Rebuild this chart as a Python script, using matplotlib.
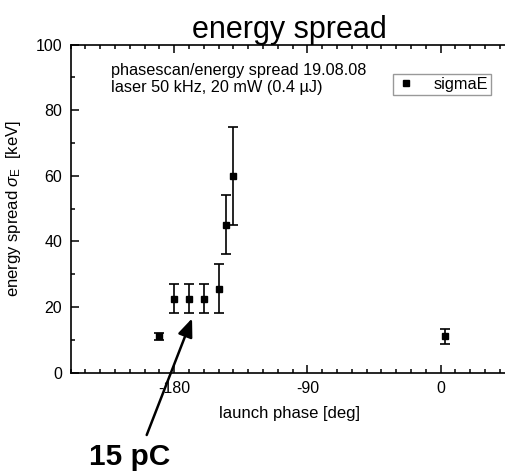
import matplotlib
matplotlib.use("Agg")
import matplotlib.pyplot as plt
from matplotlib.ticker import MultipleLocator
from matplotlib.lines import Line2D

plt.rcParams['font.family'] = ['Liberation Sans', 'DejaVu Sans']
plt.rcParams['mathtext.fontset'] = 'custom'
plt.rcParams['mathtext.rm'] = 'Liberation Sans'
plt.rcParams['mathtext.it'] = 'Liberation Sans:italic'

phase = [-190, -180, -170, -160, -150, -145, -140, 3]
sigmaE = [11, 22.5, 22.5, 22.5, 25.5, 45, 60, 11]
sigmaE_err = [1, 4.5, 4.5, 4.5, 7.5, 9, 15, 2.3]
xticks = [-180, -90, 0]

W, H = 506, 473
fig = plt.figure(figsize=(W / 100, H / 100), dpi=100)
ax = fig.add_axes([70.7 / W, 1 - 372.5 / H, (508 - 70.7) / W, (372.5 - 44.7) / H])

ax.errorbar(phase, sigmaE, yerr=sigmaE_err, fmt='s', color='black', ms=5,
            elinewidth=1.2, capsize=3.5, capthick=1.2)

ax.set_xlim(-250, 45.5)
ax.set_ylim(0, 100)
ax.set_xticks(xticks)
ax.set_xticklabels([str(v) for v in xticks])
ax.xaxis.set_minor_locator(MultipleLocator(10))
ax.yaxis.set_major_locator(MultipleLocator(20))
ax.yaxis.set_minor_locator(MultipleLocator(10))
ax.tick_params(which='both', direction='in', top=True, right=False, labelsize=11.5, width=1.1)
ax.tick_params(which='major', length=6, pad=6)
ax.tick_params(which='minor', length=3)
for s in ax.spines.values():
    s.set_linewidth(1.2)
ax.spines['right'].set_visible(False)

ax.set_xlabel('launch phase [deg]', fontsize=12, labelpad=7)
ax.set_ylabel(r'energy spread $\sigma_{\rm E}$  [keV]', fontsize=12, labelpad=9)
ax.set_title('energy spread', fontsize=22, pad=0)

ax.text(0.093, 0.945, 'phasescan/energy spread 19.08.08\nlaser 50 kHz, 20 mW (0.4 \u00b5J)',
        transform=ax.transAxes, fontsize=11.7, va='top', ha='left', linespacing=1.2)

handle = Line2D([], [], marker='s', color='black', ls='none', ms=5)
leg = ax.legend([handle], ['sigmaE'], loc='upper right', bbox_to_anchor=(0.961, 0.912),
                fontsize=11.7, frameon=True, fancybox=False, borderpad=0.2,
                handletextpad=1.0, handlelength=1.3, borderaxespad=0)
leg.get_frame().set_edgecolor('#808080')
leg.get_frame().set_linewidth(1.0)

ax.annotate('', xy=(-168, 16.5), xycoords='data',
            xytext=(146.7, H - 435), textcoords='figure pixels',
            arrowprops=dict(arrowstyle='-|>,head_length=1.1,head_width=0.45', color='black', lw=1.8,
                            shrinkA=0, shrinkB=0),
            annotation_clip=False)
fig.text(89 / W, 8 / H, '15 pC', fontsize=21.5, fontweight='bold', ha='left', va='baseline')

fig.savefig('out.png', dpi=100)
